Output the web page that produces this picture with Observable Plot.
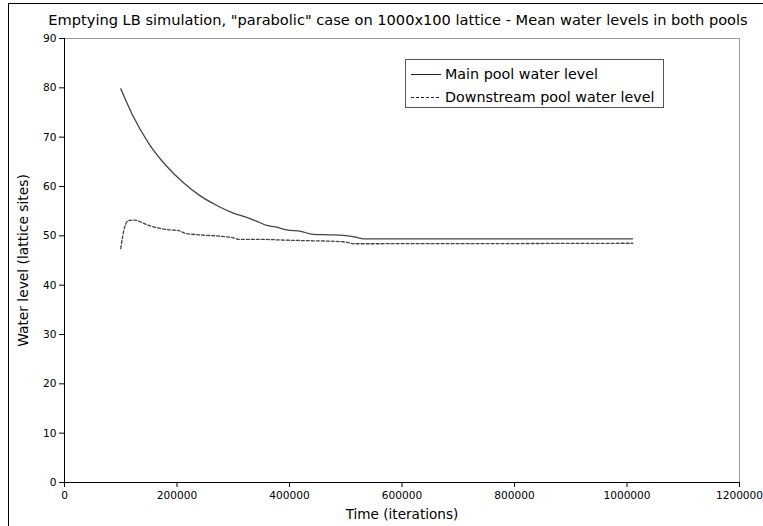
<!DOCTYPE html>
<html><head><meta charset="utf-8">
<script src="https://cdn.jsdelivr.net/npm/d3@7"></script>
<script src="https://cdn.jsdelivr.net/npm/@observablehq/plot@0.6"></script>
<style>
body{margin:0;background:#fff;}
#wrap{position:relative;width:763px;height:526px;overflow:hidden;font-family:"DejaVu Sans";}
#chart{position:absolute;left:0;top:0;}
#border{position:absolute;left:8px;top:3px;width:800px;height:600px;border-left:1px solid #000;border-top:1px solid #000;pointer-events:none;}
#legend{position:absolute;left:405px;top:59px;width:257px;height:47px;border:1px solid #555;background:#fff;font-size:14.3px;color:#000;}
#legend .row{position:absolute;left:0;height:20px;line-height:20px;white-space:nowrap;}
#legend svg{position:absolute;left:0;top:0;}
#legend span{position:absolute;left:39px;}
</style></head>
<body><div id="wrap"><div id="chart"></div><div id="border"></div><div id="legend"></div></div>
<script>
const title = "Emptying LB simulation, \"parabolic\" case on 1000x100 lattice - Mean water levels in both pools";
const xLabel = "Time (iterations)";
const yLabel = "Water level (lattice sites)";
const xTicks = [0, 200000, 400000, 600000, 800000, 1000000, 1200000];
const yTicks = [0, 10, 20, 30, 40, 50, 60, 70, 80, 90];
const seriesNames = ["Main pool water level", "Downstream pool water level"];

const mainTime  = [100000, 120000, 150000, 180000, 210000, 240000, 270000, 300000, 330000, 345000, 360000, 375000, 395000, 420000, 442000, 470000, 496000, 515000, 531000, 1010000];
const mainLevel = [79.8, 74.7, 68.7, 64.3, 60.9, 58.2, 56.2, 54.6, 53.5, 52.8, 52.1, 51.8, 51.2, 50.9, 50.3, 50.2, 50.1, 49.8, 49.4, 49.4];

const dsTime  = [100000, 107000, 114000, 123000, 150000, 180000, 205000, 215000, 240000, 280000, 300000, 310000, 340000, 400000, 496000, 515000, 540000, 1010000];
const dsLevel = [47.4, 51.8, 53.1, 53.2, 52.1, 51.3, 51.0, 50.5, 50.2, 49.9, 49.6, 49.3, 49.3, 49.1, 48.8, 48.4, 48.4, 48.5];

const mainData = mainTime.map((t, i) => ({t, v: mainLevel[i]}));
const dsData = dsTime.map((t, i) => ({t, v: dsLevel[i]}));

const chart = Plot.plot({
  width: 763, height: 526,
  marginLeft: 64, marginRight: 24, marginTop: 38, marginBottom: 44,
  style: {fontFamily: "DejaVu Sans", fontSize: "10.6px", color: "#000", background: "transparent"},
  x: {domain: [0, 1200000]},
  y: {domain: [0, 90]},
  marks: [
    Plot.ruleY([90], {stroke: "#999"}),
    Plot.ruleX([1200000], {stroke: "#999"}),
    Plot.axisX({ticks: xTicks, tickFormat: d => String(d), label: null, tickSize: 5, tickPadding: 4, stroke: "#000"}),
    Plot.axisY({ticks: yTicks, label: null, tickSize: 5, tickPadding: 3, stroke: "#000"}),
    Plot.ruleX([0], {stroke: "#000"}),
    Plot.ruleY([0], {stroke: "#000"}),
    Plot.line(mainData, {x: "t", y: "v", stroke: "#444", strokeWidth: 1.3, curve: "monotone-x"}),
    Plot.line(dsData, {x: "t", y: "v", stroke: "#444", strokeWidth: 1.3, strokeDasharray: "3,2", curve: "monotone-x"}),
    Plot.text([title], {frameAnchor: "top", dy: -24, dx: -4, fontSize: 14.6, fill: "#000"}),
    Plot.text([xLabel], {frameAnchor: "bottom", dy: 36, fontSize: 13.6, fill: "#000"}),
    Plot.text([yLabel], {frameAnchor: "left", textAnchor: "middle", dx: -41, rotate: -90, fontSize: 13.8, fill: "#000"})
  ]
});
document.getElementById("chart").appendChild(chart);

const legend = document.getElementById("legend");
seriesNames.forEach((name, i) => {
  const row = document.createElement("div");
  row.className = "row";
  row.style.top = (4 + i * 23) + "px";
  row.style.width = "255px";
  row.innerHTML = `<svg width="36" height="20"><line x1="5" x2="35" y1="10.5" y2="10.5" stroke="#222" stroke-width="1" ${i === 1 ? 'stroke-dasharray="3,2"' : ''}/></svg><span>${name}</span>`;
  legend.appendChild(row);
});
</script>
</body></html>
